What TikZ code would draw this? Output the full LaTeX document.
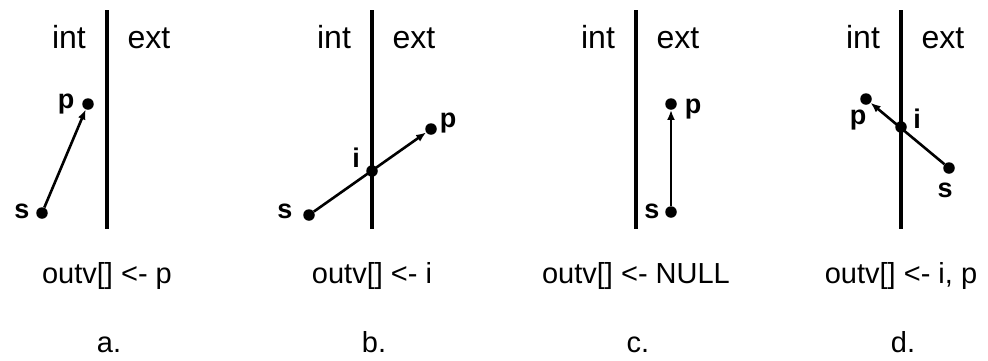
\documentclass[tikz,border=0pt]{standalone}
\usepackage{fontspec}
\setmainfont{Liberation Sans}
\usetikzlibrary{arrows.meta}

\begin{document}
\begin{tikzpicture}[x=1pt, y=-1pt,
    dot/.style={circle, fill=black, inner sep=0pt, minimum size=11.5pt},
    lbl/.style={anchor=base, inner sep=0pt, font=\fontsize{27}{32}\selectfont\bfseries},
    side/.style={anchor=base, inner sep=0pt, font=\fontsize{32}{38}\selectfont},
    rule/.style={anchor=base, inner sep=0pt, font=\fontsize{29}{35}\selectfont},
    move/.style={line width=2.6pt, -{Latex[length=10pt,width=8pt]}}]
  \path[use as bounding box] (0,0) rectangle (988,360);

  % boundary, sides and result of each case
  \foreach \x/\res/\tag in {107/p/a, 372/i/b, 636/NULL/c, 901/{i, p}/d} {
    \coordinate (top\tag) at (\x,10);
    \coordinate (bot\tag) at (\x,229);
    \draw[line width=4.6pt] (top\tag) -- (bot\tag);
    \node[side] (int\tag) at (\x-38,48) {int};
    \node[side] (ext\tag) at (\x+42,48) {ext};
    \node[rule] (res\tag) at (\x,283) {outv[] <- \res};
    \node[rule] (cap\tag) at (\x+2,352) {\tag.};
  }

  % a. both points inside
  \node[dot] (sa) at (42,213) {};
  \node[dot] (pa) at (88,104) {};
  \node[lbl] (lsa) at (22,218) {s};
  \node[lbl] (lpa) at (66,108) {p};
  \draw[move] (sa) -- (pa);

  % b. leaving
  \node[dot] (sb) at (309,215) {};
  \node[dot] (pb) at (431,129) {};
  \draw[move] (sb) -- (pb);
  \node[dot] (ib) at (372,171) {};
  \node[lbl] (lsb) at (285,218) {s};
  \node[lbl] (lib) at (356,167) {i};
  \node[lbl] (lpb) at (448,127) {p};

  % c. both points outside
  \node[dot] (sc) at (671,212) {};
  \node[dot] (pc) at (671,104) {};
  \node[lbl] (lsc) at (652,218) {s};
  \node[lbl] (lpc) at (693,113) {p};
  \draw[move] (sc) -- (pc);

  % d. entering
  \node[dot] (sd) at (949,168) {};
  \node[dot] (pd) at (866,99) {};
  \draw[move] (sd) -- (pd);
  \node[dot] (id) at (901,127) {};
  \node[lbl] (lsd) at (945,197) {s};
  \node[lbl] (lid) at (917,128) {i};
  \node[lbl] (lpd) at (858,124) {p};
\end{tikzpicture}
\end{document}
